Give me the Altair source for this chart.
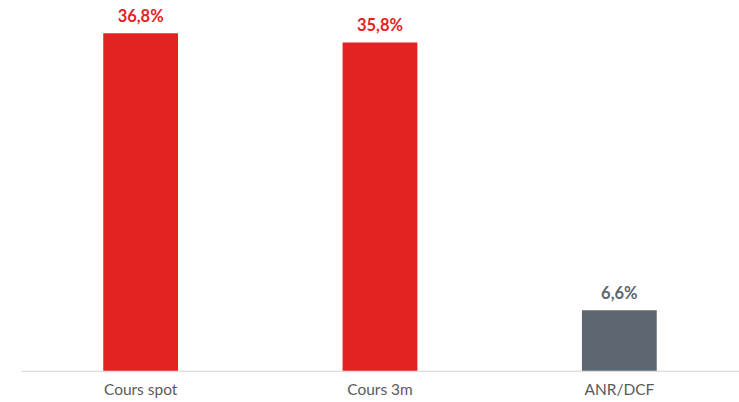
import altair as alt
import pandas as pd

categories = ["Cours spot", "Cours 3m", "ANR/DCF"]
values = [36.8, 35.8, 6.6]
labels = ["36,8%", "35,8%", "6,6%"]
colors = ["#E32322", "#E32322", "#5B6670"]

df = pd.DataFrame({"cat": categories, "val": values, "lab": labels, "col": colors})

x = alt.X("cat:N", sort=categories, title=None,
          scale=alt.Scale(paddingInner=0.6875, paddingOuter=0.34375),
          axis=alt.Axis(labelAngle=0, ticks=False, domainColor="#D3D3D3", domainWidth=1.2,
                        labelColor="#5A5A5A", labelFontSize=15.5, labelFont="Lato",
                        labelPadding=12))
y = alt.Y("val:Q", scale=alt.Scale(domain=[0, 40.4], nice=False, zero=True), axis=None)

bars = alt.Chart(df).mark_bar().encode(
    x=x, y=y, color=alt.Color("col:N", scale=None)
)
text = alt.Chart(df).mark_text(dy=-16, fontSize=16.5, fontWeight="bold", font="Lato").encode(
    x=alt.X("cat:N", sort=categories), y="val:Q", text="lab:N", color=alt.Color("col:N", scale=None)
)

chart = (bars + text).properties(
    width=719, height=371,
    autosize=alt.AutoSizeParams(type="none"),
    padding={"left": 21, "top": 0, "right": 0, "bottom": 31},
).configure_view(stroke=None)

chart.save("out.html", embed_options={"renderer": "svg", "actions": False})
